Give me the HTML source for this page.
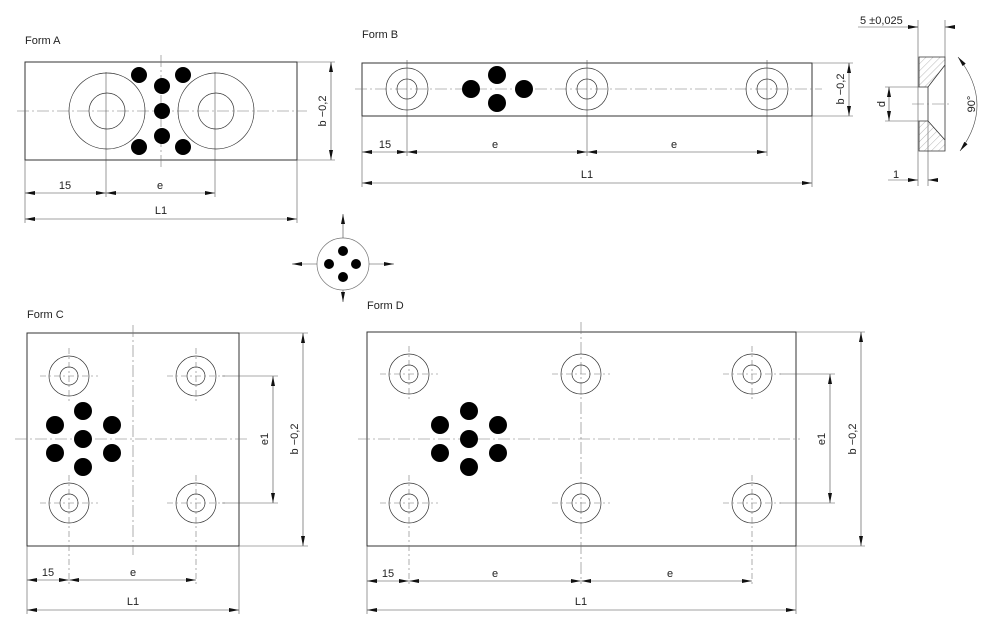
<!DOCTYPE html>
<html><head><meta charset="utf-8"><style>
html,body{margin:0;padding:0;background:#fff;}
svg{display:block}
text{font-family:"Liberation Sans Narrow","Liberation Sans",sans-serif;font-size:11px;fill:#222}
.o{fill:none;stroke:#333;stroke-width:1}
.t{fill:none;stroke:#555;stroke-width:0.6}
.c{fill:none;stroke:#777;stroke-width:0.6;stroke-dasharray:12 3 2 3}
.d{fill:none;stroke:#444;stroke-width:0.6;marker-start:url(#a);marker-end:url(#a)}
.e{fill:none;stroke:#444;stroke-width:0.6;marker-end:url(#a)}
.f{fill:#000}
</style></head><body>
<svg width="1000" height="631" viewBox="0 0 1000 631" xmlns="http://www.w3.org/2000/svg">
<defs>
<marker id="a" viewBox="0 0 10 4" refX="10" refY="2" markerWidth="10" markerHeight="4" markerUnits="userSpaceOnUse" orient="auto-start-reverse"><path d="M0,0 L10,2 L0,4 z" fill="#111"/></marker>
<pattern id="h" width="5" height="5" patternUnits="userSpaceOnUse" patternTransform="rotate(45)"><line x1="0" y1="0" x2="0" y2="5" stroke="#888" stroke-width="0.6"/></pattern>
</defs>

<!-- Form A -->
<text x="25" y="44">Form A</text>
<rect class="o" x="25" y="62" width="272" height="98"/>
<line class="c" x1="17" y1="111" x2="307" y2="111"/>
<line class="c" x1="161" y1="55" x2="161" y2="168"/>
<line class="t" x1="106" y1="72" x2="106" y2="197"/>
<line class="t" x1="215" y1="72" x2="215" y2="197"/>
<circle class="o" cx="107" cy="111" r="38" style="stroke-width:.7"/><circle class="o" cx="107" cy="111" r="18" style="stroke-width:.7"/>
<circle class="o" cx="216" cy="111" r="38" style="stroke-width:.7"/><circle class="o" cx="216" cy="111" r="18" style="stroke-width:.7"/>
<g class="f"><circle cx="139" cy="75" r="8"/><circle cx="183" cy="75" r="8"/><circle cx="162" cy="86" r="8"/><circle cx="162" cy="111" r="8"/><circle cx="162" cy="136" r="8"/><circle cx="139" cy="147" r="8"/><circle cx="183" cy="147" r="8"/></g>
<line class="t" x1="297" y1="62" x2="335" y2="62"/><line class="t" x1="297" y1="160" x2="335" y2="160"/>
<line class="d" x1="331" y1="62" x2="331" y2="160"/>
<text transform="translate(326,111) rotate(-90)" text-anchor="middle">b −0,2</text>
<line class="t" x1="25" y1="160" x2="25" y2="223"/><line class="t" x1="297" y1="160" x2="297" y2="223"/>
<line class="d" x1="25" y1="193" x2="106" y2="193"/><line class="d" x1="106" y1="193" x2="215" y2="193"/>
<text x="65" y="189" text-anchor="middle">15</text><text x="160" y="189" text-anchor="middle">e</text>
<line class="d" x1="25" y1="219" x2="297" y2="219"/><text x="161" y="214" text-anchor="middle">L1</text>

<!-- Form B -->
<text x="362" y="38">Form B</text>
<rect class="o" x="362" y="63" width="450" height="53"/>
<line class="c" x1="355" y1="89" x2="822" y2="89"/>
<g class="o" style="stroke-width:.7">
<circle cx="407" cy="89" r="21"/><circle cx="407" cy="89" r="10"/>
<circle cx="587" cy="89" r="21"/><circle cx="587" cy="89" r="10"/>
<circle cx="767" cy="89" r="21"/><circle cx="767" cy="89" r="10"/></g>
<line class="t" x1="407" y1="60" x2="407" y2="156"/><line class="t" x1="587" y1="60" x2="587" y2="156"/><line class="t" x1="767" y1="60" x2="767" y2="156"/>
<g class="f"><circle cx="471" cy="89" r="9"/><circle cx="524" cy="89" r="9"/><circle cx="497" cy="75" r="9"/><circle cx="497" cy="103" r="9"/></g>
<line class="t" x1="812" y1="63" x2="853" y2="63"/><line class="t" x1="812" y1="116" x2="853" y2="116"/>
<line class="d" x1="849" y1="63" x2="849" y2="116"/>
<text transform="translate(844,89) rotate(-90)" text-anchor="middle">b −0,2</text>
<line class="t" x1="362" y1="116" x2="362" y2="187"/><line class="t" x1="812" y1="116" x2="812" y2="187"/>
<line class="d" x1="362" y1="152" x2="407" y2="152"/><line class="d" x1="407" y1="152" x2="587" y2="152"/><line class="d" x1="587" y1="152" x2="767" y2="152"/>
<text x="385" y="148" text-anchor="middle">15</text><text x="495" y="148" text-anchor="middle">e</text><text x="674" y="148" text-anchor="middle">e</text>
<line class="d" x1="362" y1="183" x2="812" y2="183"/><text x="587" y="178" text-anchor="middle">L1</text>

<!-- Section -->
<text x="860" y="24">5  ±0,025</text>
<line class="t" x1="858" y1="27" x2="918" y2="27"/>
<line class="e" x1="908" y1="27" x2="918" y2="27"/>
<line class="e" x1="955" y1="27" x2="945" y2="27"/>
<line class="t" x1="918" y1="20" x2="918" y2="186"/><line class="t" x1="945" y1="20" x2="945" y2="57"/>
<line class="t" x1="928" y1="121" x2="928" y2="186"/>
<path d="M919,57 H945 V65 L928,87 H919 Z" fill="url(#h)" stroke="#333" stroke-width="0.8"/>
<path d="M919,151 H945 V140 L928,121 H919 Z" fill="url(#h)" stroke="#333" stroke-width="0.8"/>
<path class="o" d="M945,65 V140 M928,87 V121" style="stroke-width:.8"/>
<line class="c" x1="912" y1="104" x2="952" y2="104"/>
<line class="t" x1="885" y1="87" x2="919" y2="87"/><line class="t" x1="885" y1="121" x2="919" y2="121"/>
<line class="d" x1="889" y1="87" x2="889" y2="121"/>
<text transform="translate(885,104) rotate(-90)" text-anchor="middle">d</text>
<path class="t" d="M958,57 Q995,104 960,151" style="marker-start:url(#a);marker-end:url(#a);stroke:#444"/>
<text transform="translate(975,104) rotate(-90)" text-anchor="middle">90°</text>
<text x="893" y="178">1</text>
<line class="t" x1="888" y1="180" x2="910" y2="180"/>
<line class="e" x1="908" y1="180" x2="918" y2="180"/>
<line class="e" x1="938" y1="180" x2="928" y2="180"/>

<!-- Orientation icon -->
<circle cx="343" cy="264" r="26" fill="none" stroke="#777" stroke-width="0.7"/>
<g class="f"><circle cx="343" cy="251" r="5"/><circle cx="329" cy="264" r="5"/><circle cx="356" cy="264" r="5"/><circle cx="343" cy="277" r="5"/></g>
<line class="e" x1="343" y1="238" x2="343" y2="214"/>
<line class="e" x1="343" y1="290" x2="343" y2="302"/>
<line class="e" x1="317" y1="264" x2="292" y2="264"/>
<line class="e" x1="369" y1="264" x2="394" y2="264"/>

<!-- Form C -->
<text x="27" y="318">Form C</text>
<rect class="o" x="27" y="333" width="212" height="213"/>
<line class="c" x1="15" y1="439" x2="250" y2="439"/>
<line class="c" x1="133" y1="325" x2="133" y2="555"/>
<g class="o" style="stroke-width:.7">
<circle cx="69" cy="376" r="20"/><circle cx="69" cy="376" r="9"/>
<circle cx="196" cy="376" r="20"/><circle cx="196" cy="376" r="9"/>
<circle cx="69" cy="503" r="20"/><circle cx="69" cy="503" r="9"/>
<circle cx="196" cy="503" r="20"/><circle cx="196" cy="503" r="9"/></g>
<g class="c" style="stroke-dasharray:6 3 2 3">
<line x1="40" y1="376" x2="98" y2="376"/><line x1="69" y1="348" x2="69" y2="404"/>
<line x1="167" y1="376" x2="225" y2="376"/><line x1="196" y1="348" x2="196" y2="404"/>
<line x1="40" y1="503" x2="98" y2="503"/><line x1="69" y1="475" x2="69" y2="584"/>
<line x1="167" y1="503" x2="225" y2="503"/><line x1="196" y1="475" x2="196" y2="584"/></g>
<g class="f"><circle cx="83" cy="411" r="9"/><circle cx="55" cy="425" r="9"/><circle cx="112" cy="425" r="9"/><circle cx="83" cy="439" r="9"/><circle cx="55" cy="453" r="9"/><circle cx="112" cy="453" r="9"/><circle cx="83" cy="467" r="9"/></g>
<line class="t" x1="222" y1="376" x2="278" y2="376"/><line class="t" x1="222" y1="503" x2="278" y2="503"/>
<line class="d" x1="273" y1="376" x2="273" y2="503"/>
<text transform="translate(268,439) rotate(-90)" text-anchor="middle">e1</text>
<line class="t" x1="239" y1="333" x2="308" y2="333"/><line class="t" x1="239" y1="546" x2="308" y2="546"/>
<line class="d" x1="303" y1="333" x2="303" y2="546"/>
<text transform="translate(298,439) rotate(-90)" text-anchor="middle">b −0,2</text>
<line class="t" x1="27" y1="546" x2="27" y2="614"/><line class="t" x1="239" y1="546" x2="239" y2="614"/>
<line class="d" x1="27" y1="580" x2="69" y2="580"/><line class="d" x1="69" y1="580" x2="196" y2="580"/>
<text x="48" y="576" text-anchor="middle">15</text><text x="133" y="576" text-anchor="middle">e</text>
<line class="d" x1="27" y1="610" x2="239" y2="610"/><text x="133" y="605" text-anchor="middle">L1</text>

<!-- Form D -->
<text x="367" y="309">Form D</text>
<rect class="o" x="367" y="332" width="429" height="214"/>
<line class="c" x1="358" y1="439" x2="800" y2="439"/>
<line class="c" x1="581" y1="322" x2="581" y2="584"/>
<g class="o" style="stroke-width:.7">
<circle cx="409" cy="374" r="20"/><circle cx="409" cy="374" r="9"/>
<circle cx="581" cy="374" r="20"/><circle cx="581" cy="374" r="9"/>
<circle cx="752" cy="374" r="20"/><circle cx="752" cy="374" r="9"/>
<circle cx="409" cy="503" r="20"/><circle cx="409" cy="503" r="9"/>
<circle cx="581" cy="503" r="20"/><circle cx="581" cy="503" r="9"/>
<circle cx="752" cy="503" r="20"/><circle cx="752" cy="503" r="9"/></g>
<g class="c" style="stroke-dasharray:6 3 2 3">
<line x1="380" y1="374" x2="438" y2="374"/><line x1="409" y1="346" x2="409" y2="402"/>
<line x1="552" y1="374" x2="610" y2="374"/>
<line x1="723" y1="374" x2="781" y2="374"/><line x1="752" y1="346" x2="752" y2="402"/>
<line x1="380" y1="503" x2="438" y2="503"/><line x1="409" y1="475" x2="409" y2="585"/>
<line x1="552" y1="503" x2="610" y2="503"/>
<line x1="723" y1="503" x2="781" y2="503"/><line x1="752" y1="475" x2="752" y2="585"/></g>
<g class="f"><circle cx="469" cy="411" r="9"/><circle cx="440" cy="425" r="9"/><circle cx="498" cy="425" r="9"/><circle cx="469" cy="439" r="9"/><circle cx="440" cy="453" r="9"/><circle cx="498" cy="453" r="9"/><circle cx="469" cy="467" r="9"/></g>
<line class="t" x1="780" y1="374" x2="835" y2="374"/><line class="t" x1="780" y1="503" x2="835" y2="503"/>
<line class="d" x1="830" y1="374" x2="830" y2="503"/>
<text transform="translate(825,439) rotate(-90)" text-anchor="middle">e1</text>
<line class="t" x1="796" y1="332" x2="865" y2="332"/><line class="t" x1="796" y1="546" x2="865" y2="546"/>
<line class="d" x1="861" y1="332" x2="861" y2="546"/>
<text transform="translate(856,439) rotate(-90)" text-anchor="middle">b −0,2</text>
<line class="t" x1="367" y1="546" x2="367" y2="614"/><line class="t" x1="796" y1="546" x2="796" y2="614"/>
<line class="d" x1="367" y1="581" x2="409" y2="581"/><line class="d" x1="409" y1="581" x2="581" y2="581"/><line class="d" x1="581" y1="581" x2="752" y2="581"/>
<text x="388" y="577" text-anchor="middle">15</text><text x="495" y="577" text-anchor="middle">e</text><text x="670" y="577" text-anchor="middle">e</text>
<line class="d" x1="367" y1="610" x2="796" y2="610"/><text x="581" y="605" text-anchor="middle">L1</text>
</svg>
</body></html>
